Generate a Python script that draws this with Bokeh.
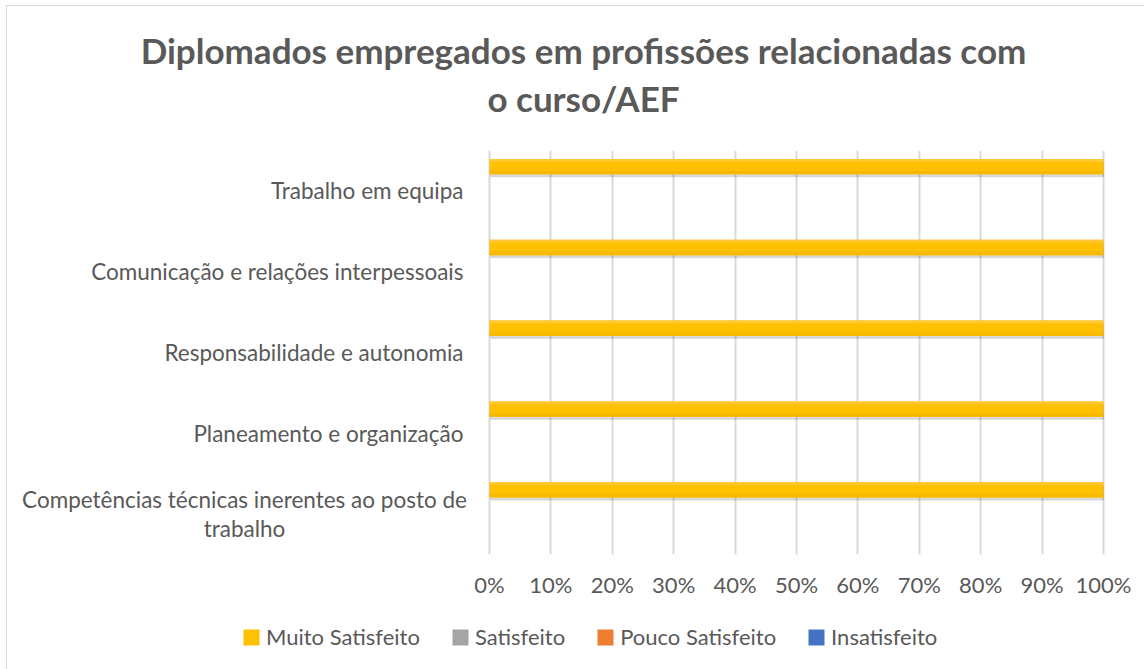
from bokeh.plotting import figure
from bokeh.layouts import column
from bokeh.models import (FactorRange, Range1d, ColumnDataSource, FixedTicker,
                          NumeralTickFormatter, Legend, LegendItem, Label)
from bokeh.core.properties import value
from bokeh.transform import dodge
from bokeh.embed import file_html
from bokeh.resources import INLINE

# ---- data ----
categories = [
    "Competências técnicas inerentes ao posto de trabalho",
    "Planeamento e organização",
    "Responsabilidade e autonomia",
    "Comunicação e relações interpessoais",
    "Trabalho em equipa",
]
category_labels = [
    "Competências técnicas inerentes ao posto de\ntrabalho",
    "Planeamento e organização",
    "Responsabilidade e autonomia",
    "Comunicação e relações interpessoais",
    "Trabalho em equipa",
]
series_names = ["Muito Satisfeito", "Satisfeito", "Pouco Satisfeito", "Insatisfeito"]
muito_satisfeito = [1.0, 1.0, 1.0, 1.0, 1.0]
satisfeito = [0.0, 0.0, 0.0, 0.0, 0.0]
pouco_satisfeito = [0.0, 0.0, 0.0, 0.0, 0.0]
insatisfeito = [0.0, 0.0, 0.0, 0.0, 0.0]
tick_values = [0, 0.1, 0.2, 0.3, 0.4, 0.5, 0.6, 0.7, 0.8, 0.9, 1.0]
title_lines = ["Diplomados empregados em profissões relacionadas com", "o curso/AEF"]

colors = ["#FFC000", "#A5A5A5", "#ED7D31", "#4472C4"]
offsets = [0.30, 0.10, -0.10, -0.30]
BAR_H = 0.19
FONT = "Lato"
TXT = "#595959"

W = 1137
H_TITLE, H_MAIN, H_LEG = 144, 460, 59
LEFT_PX, RIGHT_PX = 482, 41          # frame pixels left of 0% and right of 100%
SCALE = W - LEFT_PX - RIGHT_PX       # pixels per 100%
AXIS_PX = 56                         # space under the plot area for tick labels


def bare(fig):
    fig.min_border_left = fig.min_border_right = 0
    fig.min_border_top = fig.min_border_bottom = 0
    fig.title.visible = False
    fig.outline_line_color = None
    fig.border_fill_color = "white"
    fig.background_fill_color = "white"
    return fig


# ---------- title ----------
pt = bare(figure(width=W, height=H_TITLE, output_backend="svg", toolbar_location=None,
                 x_range=Range1d(0, W), y_range=Range1d(0, H_TITLE)))
pt.axis.visible = False
pt.grid.visible = False
for j, line in enumerate(title_lines):
    pt.add_layout(Label(x=576, y=101 - 48 * j, text=line, text_align="center",
                        text_baseline="middle", text_font=FONT, text_font_style="bold",
                        text_font_size="35px", text_color=TXT))

# ---------- main chart ----------
src = ColumnDataSource(dict(cat=categories, s0=muito_satisfeito, s1=satisfeito,
                            s2=pouco_satisfeito, s3=insatisfeito))
single = [(c, t) for c, t in zip(categories, category_labels) if "\n" not in t]
multi = [(c, t) for c, t in zip(categories, category_labels) if "\n" in t]
src_single = ColumnDataSource(dict(cat=[c for c, _ in single], label=[t for _, t in single],
                                   x=[-26.0 / SCALE] * len(single)))
src_multi = ColumnDataSource(dict(cat=[c for c, _ in multi], label=[t for _, t in multi],
                                  x=[-245.0 / SCALE] * len(multi)))

p = bare(figure(width=W, height=H_MAIN, output_backend="svg", toolbar_location=None,
                y_range=FactorRange(factors=categories),
                x_range=Range1d(-LEFT_PX / SCALE, 1 + RIGHT_PX / SCALE)))
p.min_border_bottom = AXIS_PX

# soft shadow under the bars
p.hbar(y=dodge("cat", offsets[0] - 0.045, range=p.y_range), left=0.003, right="s0",
       height=0.17, color="#000000", alpha=0.06, source=src)
p.hbar(y=dodge("cat", offsets[0] - 0.03, range=p.y_range), left=0.002, right="s0",
       height=0.18, color="#000000", alpha=0.08, source=src)
for i, name in enumerate(series_names):
    p.hbar(y=dodge("cat", offsets[i], range=p.y_range), left=0, right="s%d" % i,
           height=BAR_H, fill_color=colors[i], line_color=None, source=src)
# subtle gradient look of the yellow bars: lighter top edge, darker bottom edge
p.hbar(y=dodge("cat", offsets[0] + BAR_H / 2 - 0.018, range=p.y_range), left=0,
       right="s0", height=0.036, fill_color="#FFC832", line_color=None, source=src)
p.hbar(y=dodge("cat", offsets[0] - BAR_H / 2 + 0.022, range=p.y_range), left=0,
       right="s0", height=0.044, fill_color="#F5B900", line_color=None, source=src)

p.text(x="x", y="cat", text="label", text_align="right", text_baseline="middle",
       text_font=value(FONT), text_font_size="22.5px", text_color=TXT, source=src_single)
p.text(x="x", y="cat", text="label", text_align="center", text_baseline="middle",
       text_font=value(FONT), text_font_size="22.5px", text_color=TXT,
       text_line_height=1.05, source=src_multi)

p.yaxis.visible = False
p.xaxis.ticker = FixedTicker(ticks=tick_values)
p.xaxis.formatter = NumeralTickFormatter(format="0%")
ax = p.xaxis[0]
ax.axis_line_color = None
ax.major_tick_line_color = None
ax.minor_tick_line_color = None
ax.major_tick_out = 0
ax.major_label_text_font = FONT
ax.major_label_text_color = TXT
ax.major_label_text_font_size = "22px"
ax.major_label_standoff = 16
p.xgrid.grid_line_color = "#D9D9D9"
p.xgrid.grid_line_width = 2
p.ygrid.grid_line_color = None

# ---------- legend ----------
pl = bare(figure(width=W, height=H_LEG, output_backend="svg", toolbar_location=None,
                 x_range=Range1d(0, 1), y_range=Range1d(0, 1)))
pl.axis.visible = False
pl.grid.visible = False
items = []
for i, name in enumerate(series_names):
    # out-of-view stand-in so that the legend swatch is drawn
    r = pl.hbar(y=[5], right=[0], left=[0], height=0.1, fill_color=colors[i],
                line_color=None)
    items.append(LegendItem(label=name, renderers=[r]))
legend = Legend(items=items, orientation="horizontal", location=(234, 19),
                padding=0, margin=0, spacing=30, label_standoff=5,
                glyph_width=20, glyph_height=20,
                label_text_font=FONT, label_text_font_size="22px",
                label_text_color=TXT, background_fill_alpha=0,
                border_line_color=None)
pl.add_layout(legend, "center")

layout = column(pt, p, pl, spacing=0,
                styles={"margin-left": "6px", "margin-top": "5px",
                        "border-left": "1px solid #D9D9D9",
                        "border-top": "1px solid #D9D9D9"})

open("out.html", "w").write(file_html(layout, INLINE))
